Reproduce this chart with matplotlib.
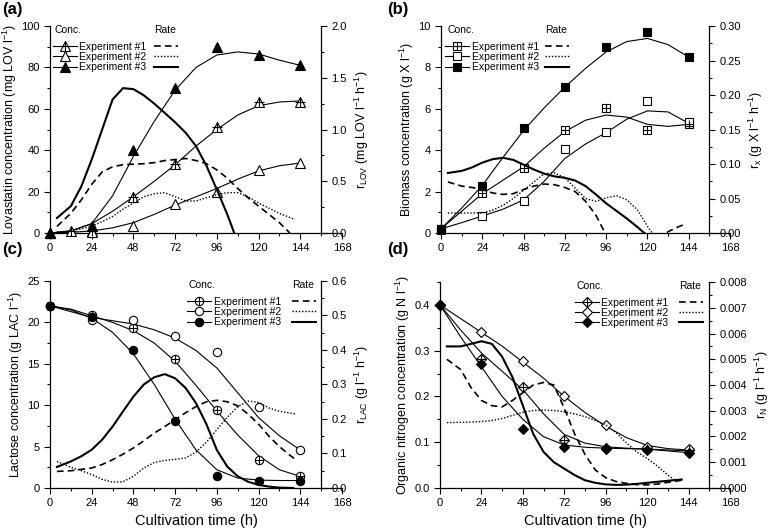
import matplotlib
matplotlib.use("Agg")
import matplotlib.pyplot as plt
from matplotlib.lines import Line2D
from matplotlib.ticker import MultipleLocator, FormatStrFormatter

plt.rcParams["font.family"] = ["Liberation Sans", "DejaVu Sans"]
plt.rcParams["mathtext.default"] = "regular"
plt.rcParams["axes.linewidth"] = 0.9

# ---------------------------------------------------
# DATA
# ---------------------------------------------------

t_meas = [0, 24, 48, 72, 96, 120, 144]
t_fit = [0, 12, 24, 36, 48, 60, 72, 84, 96, 108, 120, 132, 144]
t_rate = [4, 12, 18, 24, 30, 36, 42, 48, 54, 60, 66, 72, 78, 84,
          90, 96, 102, 108, 114, 120, 126, 132]

# (a) lovastatin
t_lov1 = [0, 12, 24, 48, 72, 96, 120, 144]
lov_exp1 = [0, 0.8, 1.2, 17.4, 33.4, 51.4, 63.5, 63.5]
lov_exp2 = [0, 0.3, 3.2, 14.0, 19.8, 30.5, 33.8]
lov_exp3 = [0, 3.5, 40.0, 70.0, 90.0, 86.0, 81.0]
lov_fit1 = [0, 1, 4.5, 10.5, 17.5, 25, 33, 42, 50, 57, 61.5, 63.3, 63.8]
lov_fit2 = [0, 0.3, 1, 2.5, 5, 9, 13.5, 17.5, 21.5, 26, 30, 32.5, 33.8]
lov_fit3 = [0, 1, 4.5, 18, 37, 54, 69, 80, 86, 87.5, 86.5, 83.5, 81]
r_lov1 = [0.064, 0.19, 0.32, 0.47, 0.59, 0.64, 0.66, 0.665, 0.67, 0.68, 0.70,
          0.71, 0.72, 0.70, 0.67, 0.61, 0.53, 0.43, 0.34, 0.26, 0.18, 0.10, 0.0]
t_r_lov1 = t_rate + [138]
r_lov2 = [0.01, 0.02, 0.04, 0.065, 0.11, 0.16, 0.23, 0.29, 0.35, 0.38, 0.39,
          0.35, 0.31, 0.31, 0.34, 0.37, 0.39, 0.39, 0.35, 0.29, 0.24, 0.19, 0.13]
t_r_lov2 = t_rate + [141]
r_lov3 = [0.145, 0.26, 0.45, 0.71, 1.0, 1.29, 1.40, 1.39, 1.33, 1.25, 1.16,
          1.07, 0.97, 0.84, 0.65, 0.42, 0.18, 0.0]
t_r_lov3 = t_rate[:17] + [106]

# (b) biomass
bio_exp1 = [0.2, 1.93, 3.15, 5.0, 6.03, 5.0, 5.25]
bio_exp2 = [0.2, 0.84, 1.55, 4.05, 4.86, 6.38, 5.37]
bio_exp3 = [0.15, 2.25, 5.06, 7.04, 8.97, 9.71, 8.52]
bio_fit1 = [0.2, 1.05, 1.9, 2.55, 3.2, 4.1, 4.9, 5.45, 5.7, 5.6, 5.25, 5.15, 5.25]
bio_fit2 = [0.2, 0.5, 0.82, 1.15, 1.6, 2.5, 3.6, 4.3, 4.85, 5.5, 5.9, 5.85, 5.3]
bio_fit3 = [0.2, 1.2, 2.3, 3.65, 4.95, 6.05, 7.05, 7.95, 8.75, 9.25, 9.4, 9.1, 8.5]
r_x1 = [0.074, 0.068, 0.066, 0.063, 0.058, 0.056, 0.057, 0.063, 0.068, 0.071,
        0.070, 0.066, 0.060, 0.046, 0.026, -0.003, -0.03, -0.04, -0.04, -0.03,
        -0.012, 0.002, 0.009, 0.012]
t_r_x1 = t_rate + [138, 141]
r_x2 = [0.029, 0.029, 0.029, 0.029, 0.033, 0.040, 0.050, 0.062, 0.074, 0.086,
        0.087, 0.080, 0.065, 0.050, 0.046, 0.051, 0.054, 0.048, 0.034, 0.010,
        -0.012]
t_r_x2 = t_rate[:21]
r_x3 = [0.087, 0.090, 0.095, 0.102, 0.107, 0.109, 0.106, 0.099, 0.092, 0.086,
        0.082, 0.080, 0.076, 0.068, 0.056, 0.043, 0.032, 0.021, 0.009, -0.004]
t_r_x3 = t_rate[:20]

# (c) lactose
lac_exp1 = [22.0, 20.95, 19.3, 15.6, 9.4, 3.4, 1.45]
lac_exp2 = [22.0, 20.3, 20.3, 18.3, 16.4, 9.8, 4.6]
lac_exp3 = [22.0, 20.7, 16.65, 8.1, 1.45, 0.88, 0.88]
lac_fit1 = [22, 21.6, 20.8, 20.0, 19.0, 17.5, 15.3, 12.4, 9.3, 6.4, 3.9, 2.2, 1.4]
lac_fit2 = [22, 21.3, 20.6, 20.2, 19.8, 19.1, 18.1, 16.6, 14.5, 11.5, 8.5, 6.3, 4.6]
lac_fit3 = [22, 21.5, 20.5, 18.8, 16.2, 12.5, 8.3, 4.6, 2.2, 1.2, 0.95, 0.9, 0.9]
r_lac1 = [0.048, 0.050, 0.054, 0.058, 0.068, 0.082, 0.098, 0.116, 0.137, 0.159,
          0.178, 0.198, 0.218, 0.236, 0.250, 0.254, 0.250, 0.238, 0.214, 0.185,
          0.15, 0.12, 0.095, 0.08]
t_r_lac1 = t_rate + [138, 142]
r_lac2 = [0.077, 0.060, 0.050, 0.039, 0.025, 0.017, 0.018, 0.034, 0.058, 0.074,
          0.080, 0.083, 0.087, 0.104, 0.133, 0.169, 0.205, 0.236, 0.252, 0.248,
          0.232, 0.222, 0.215]
t_r_lac2 = t_rate + [141]
r_lac3 = [0.061, 0.077, 0.092, 0.111, 0.140, 0.178, 0.222, 0.265, 0.300, 0.321,
          0.330, 0.318, 0.290, 0.246, 0.185, 0.110, 0.062, 0.034, 0.018, 0.009,
          0.004, 0.001, 0.0]
t_r_lac3 = t_rate + [140]

# (d) organic nitrogen
orgn_exp1 = [0.4, 0.281, 0.221, 0.105, 0.087, 0.086, 0.083]
orgn_exp2 = [0.4, 0.34, 0.277, 0.2, 0.137, 0.09, 0.085]
orgn_exp3 = [0.4, 0.27, 0.128, 0.089, 0.086, 0.083, 0.076]
orgn_fit1 = [0.4, 0.345, 0.295, 0.255, 0.215, 0.162, 0.117, 0.098, 0.090,
             0.087, 0.085, 0.083, 0.081]
orgn_fit2 = [0.4, 0.37, 0.34, 0.31, 0.275, 0.24, 0.2, 0.165, 0.135, 0.11,
             0.093, 0.086, 0.083]
orgn_fit3 = [0.4, 0.33, 0.265, 0.2, 0.15, 0.112, 0.094, 0.089, 0.087, 0.086,
             0.085, 0.081, 0.077]
r_n1 = [0.0050, 0.0046, 0.0039, 0.0034, 0.0032, 0.00315, 0.0034, 0.0037,
        0.0040, 0.0041, 0.0040, 0.0031, 0.0021, 0.0013, 0.0007, 0.0004,
        0.00025, 0.00018, 0.00013, 0.00012, 0.00015, 0.00022, 0.0003]
t_r_n1 = t_rate + [140]
r_n2 = [0.00254, 0.00255, 0.00256, 0.00258, 0.00262, 0.00270, 0.00282,
        0.00294, 0.00301, 0.00303, 0.00301, 0.00296, 0.00288, 0.00277,
        0.00262, 0.00245, 0.00215, 0.00175, 0.0014, 0.00115, 0.00085,
        0.0005, 0.0002]
t_r_n2 = t_rate + [138]
r_n3 = [0.0055, 0.0055, 0.0056, 0.0057, 0.0056, 0.0051, 0.0043, 0.0032,
        0.0021, 0.0014, 0.001, 0.00075, 0.0005, 0.0003, 0.0002, 0.00014,
        0.00012, 0.00013, 0.00016, 0.0002, 0.00024, 0.00028, 0.00033]
t_r_n3 = t_rate + [140]

exp_labels = ["Experiment #1", "Experiment #2", "Experiment #3"]

# ---------------------------------------------------
# STYLE
# ---------------------------------------------------

faces = ["white", "white", "black"]
rate_styles = [
    {"ls": (0, (4, 2.5)), "lw": 1.2},
    {"ls": (0, (1, 1.3)), "lw": 1.0},
    {"ls": "-", "lw": 1.5},
]
LEG_FS = 7.5


def draw_panel(ax, p):
    ax2 = ax.twinx()

    conc_handles = []
    for i in range(3):
        ax.plot(t_fit, p["fits"][i], color="black", lw=0.8, zorder=2)
        tm, ym = p["marks"][i]
        mk = dict(marker=p["marker"], ms=p["ms"], mfc=faces[i],
                  mec="black", mew=0.8)
        ax.plot(tm, ym, ls="none", zorder=3, clip_on=False, **mk)
        h = Line2D([], [], color="black", lw=0.8, **mk)
        if i == 0:
            pk = dict(marker="+", ms=p["pms"], mec="black", mew=0.8)
            ax.plot(tm, ym, ls="none", zorder=4, clip_on=False, **pk)
            h = (h, Line2D([], [], ls="none", **pk))
        conc_handles.append(h)

    rate_handles = []
    for i in range(3):
        tr, vr = p["rates"][i]
        ax2.plot(tr, vr, color="black", **rate_styles[i])
        rate_handles.append(Line2D([], [], color="black", **rate_styles[i]))

    # axes
    ax.set_xlim(0, 168)
    ax.set_ylim(*p["ylim"])
    ax2.set_ylim(*p["rlim"])
    ax.xaxis.set_major_locator(MultipleLocator(24))
    ax.xaxis.set_minor_locator(MultipleLocator(12))
    ax.yaxis.set_major_locator(MultipleLocator(p["ystep"]))
    ax.yaxis.set_minor_locator(MultipleLocator(p["ystep"] / 2))
    ax.yaxis.set_major_formatter(FormatStrFormatter(p["yfmt"]))
    ax2.yaxis.set_major_locator(MultipleLocator(p["rstep"]))
    ax2.yaxis.set_minor_locator(MultipleLocator(p["rstep"] / 2))
    ax2.yaxis.set_major_formatter(FormatStrFormatter(p["rfmt"]))

    ax.spines[["top", "right"]].set_visible(False)
    ax2.spines[["top", "left", "bottom"]].set_visible(False)
    ax2.spines["right"].set_position(("data", 156))

    for a in (ax, ax2):
        a.tick_params(which="both", direction="out", labelsize=8, width=0.8)
        a.tick_params(which="major", length=4)
        a.tick_params(which="minor", length=2.5)
    ax.tick_params(which="both", top=False, right=False)

    ax.set_ylabel(p["ylabel"], fontsize=9, labelpad=1.5)
    ax2.set_ylabel(p["rlabel"], fontsize=9)

    # legends: concentration (marker) and rate (line style)
    lx, rx = p["leg"]
    common = dict(loc="upper left", frameon=False, fontsize=LEG_FS,
                  handlelength=2.3, handletextpad=0.25, labelspacing=0.03,
                  borderpad=0, borderaxespad=0)
    leg1 = ax2.legend(conc_handles, exp_labels,
                      bbox_to_anchor=(lx, 0.925), **common)
    ax2.add_artist(leg1)
    ax2.legend(rate_handles, [" ", " ", " "],
               bbox_to_anchor=(rx, 0.925), **common)
    ax2.text(lx + 0.006, 0.98, "Conc.", transform=ax2.transAxes,
             fontsize=LEG_FS, va="center", ha="left")
    ax2.text(rx, 0.98, "Rate", transform=ax2.transAxes,
             fontsize=LEG_FS, va="center", ha="left")
    return ax2


panels = [
    dict(rect=[0.0647, 0.5587, 0.3777, 0.392], letter="(a)",
         marker="^", ms=7, pms=6.5,
         marks=[(t_lov1, lov_exp1), (t_meas, lov_exp2), (t_meas, lov_exp3)],
         fits=[lov_fit1, lov_fit2, lov_fit3],
         rates=[(t_r_lov1, r_lov1), (t_r_lov2, r_lov2), (t_r_lov3, r_lov3)],
         ylim=(0, 100), ystep=20, yfmt="%d",
         rlim=(0, 2.0), rstep=0.5, rfmt="%.1f",
         ylabel="Lovastatin concentration (mg LOV l$^{-1}$)",
         rlabel="r$_{LOV}$ (mg LOV l$^{-1}$ h$^{-1}$)",
         leg=(0.01, 0.355)),
    dict(rect=[0.5705, 0.5587, 0.3739, 0.392], letter="(b)",
         marker="s", ms=5.5, pms=5.5,
         marks=[(t_meas, bio_exp1), (t_meas, bio_exp2), (t_meas, bio_exp3)],
         fits=[bio_fit1, bio_fit2, bio_fit3],
         rates=[(t_r_x1, r_x1), (t_r_x2, r_x2), (t_r_x3, r_x3)],
         ylim=(0, 10), ystep=2, yfmt="%d",
         rlim=(0, 0.30), rstep=0.05, rfmt="%.2f",
         ylabel="Biomass concentration (g X l$^{-1}$)",
         rlabel="r$_x$ (g X l$^{-1}$ h$^{-1}$)",
         leg=(0.015, 0.36)),
    dict(rect=[0.0647, 0.0758, 0.3777, 0.392], letter="(c)",
         marker="o", ms=6, pms=6,
         marks=[(t_meas, lac_exp1), (t_meas, lac_exp2), (t_meas, lac_exp3)],
         fits=[lac_fit1, lac_fit2, lac_fit3],
         rates=[(t_r_lac1, r_lac1), (t_r_lac2, r_lac2), (t_r_lac3, r_lac3)],
         ylim=(0, 25), ystep=5, yfmt="%d",
         rlim=(0, 0.6), rstep=0.1, rfmt="%.1f",
         ylabel="Lactose concentration (g LAC l$^{-1}$)",
         rlabel="r$_{LAC}$ (g l$^{-1}$ h$^{-1}$)",
         leg=(0.47, 0.83)),
    dict(rect=[0.5692, 0.0758, 0.3752, 0.390], letter="(d)",
         marker="D", ms=4.6, pms=6.5,
         marks=[(t_meas, orgn_exp1), (t_meas, orgn_exp2), (t_meas, orgn_exp3)],
         fits=[orgn_fit1, orgn_fit2, orgn_fit3],
         rates=[(t_r_n1, r_n1), (t_r_n2, r_n2), (t_r_n3, r_n3)],
         ylim=(0, 0.45), ystep=0.1, yfmt="%.1f",
         rlim=(0, 0.008), rstep=0.001, rfmt="%.3f",
         ylabel="Organic nitrogen concentration (g N l$^{-1}$)",
         rlabel="r$_N$ (g l$^{-1}$ h$^{-1}$)",
         leg=(0.465, 0.825)),
]

fig = plt.figure(figsize=(7.73, 5.28), dpi=100)

for p in panels:
    ax = fig.add_axes(p["rect"])
    draw_panel(ax, p)
    if p["letter"] in ("(c)", "(d)"):
        ax.set_xlabel("Cultivation time (h)", fontsize=10.5)
    lx = 0.003 if p["letter"] in ("(a)", "(c)") else 0.501
    ly = 0.997 if p["letter"] in ("(a)", "(b)") else 0.542
    fig.text(lx, ly, p["letter"], fontsize=12, fontweight="bold",
             va="top", ha="left")

plt.savefig("out.png", dpi=100)
